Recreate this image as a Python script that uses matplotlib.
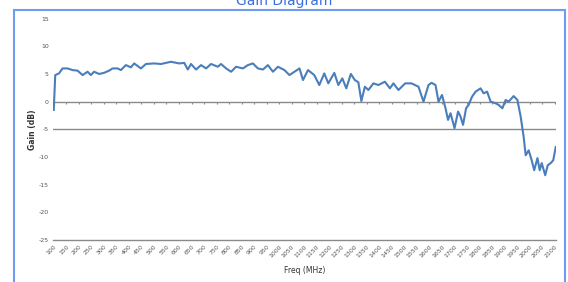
import numpy as np
from matplotlib import pyplot as plt
from matplotlib.patches import Rectangle

# frequency (MHz) and gain (dB)
freq = [100, 106, 121, 135, 155, 175, 195, 215, 235, 248, 261, 281, 301, 321, 335,
        355, 368, 388, 408, 421, 448, 468, 501, 528, 568, 601, 621, 635, 648, 668,
        688, 708, 728, 755, 768, 788, 808, 828, 855, 875, 895, 915, 935, 955, 975,
        995, 1021, 1041, 1061, 1081, 1095, 1115, 1140, 1160, 1180, 1196, 1220, 1236,
        1252, 1268, 1286, 1302, 1316, 1328, 1342, 1356, 1376, 1396, 1422, 1442, 1456,
        1476, 1503, 1528, 1556, 1576, 1596, 1608, 1624, 1636, 1650, 1664, 1674, 1684,
        1700, 1714, 1724, 1734, 1746, 1756, 1770, 1784, 1804, 1816, 1830, 1844, 1864,
        1876, 1891, 1904, 1916, 1936, 1951, 1964, 1976, 1984, 1996, 2008, 2018, 2031,
        2040, 2048, 2062, 2072, 2084, 2094, 2104]
gain = [-1.5, 4.8, 5.1, 6.0, 6.0, 5.7, 5.6, 4.8, 5.4, 4.8, 5.4, 5.0, 5.2, 5.6, 6.0,
        6.0, 5.7, 6.6, 6.2, 6.9, 6.0, 6.8, 6.9, 6.8, 7.2, 6.9, 7.0, 5.8, 6.8, 5.8,
        6.6, 6.0, 6.8, 6.3, 6.8, 6.0, 5.4, 6.3, 6.0, 6.6, 6.9, 6.0, 5.8, 6.6, 5.4,
        6.3, 5.7, 4.8, 5.4, 6.0, 3.9, 5.7, 4.8, 3.0, 5.1, 3.3, 5.2, 3.0,
        4.2, 2.4, 5.0, 3.9, 3.5, 0.1, 2.7, 2.1, 3.3, 3.0, 3.6, 2.4, 3.3,
        2.1, 3.3, 3.3, 2.7, 0.0, 3.0, 3.4, 3.0, 0.0, 1.2, -1.2, -3.3, -2.1,
        -4.8, -1.8, -2.7, -4.2, -1.2, -0.6, 0.9, 1.8, 2.4, 1.5, 1.8, 0.0, -0.3,
        -0.6, -1.2, 0.3, 0.0, 1.0, 0.3, -2.7, -6.4, -9.7, -8.8, -10.6, -12.4, -10.2,
        -12.4, -11.1, -13.3, -11.5, -11.1, -10.6, -8.2]

tick_freqs = np.arange(100, 2101, 50)
tick_labels = [str(f) for f in tick_freqs]
y_ticks = [15, 10, 5, 0, -5, -10, -15, -20, -25]
ref_lines = [0, -5]

fig = plt.figure(figsize=(5.68, 2.82), dpi=100)
ax = fig.add_axes([0.0933, 0.149, 0.886, 0.785])

for y in ref_lines:
    ax.axhline(y, color="#8a8a8a", lw=1.0, zorder=1)
ax.vlines(tick_freqs, -0.5, 0, color="#8a8a8a", lw=0.8, zorder=1)
ax.plot(freq, gain, color="#4a7ebb", lw=1.5, zorder=3)

ax.set_xlim(97, 2106)
ax.set_ylim(-25, 15)
ax.set_yticks(y_ticks)
ax.set_yticklabels([str(v) for v in y_ticks], fontsize=4.5, color="#555555")
ax.set_xticks(tick_freqs)
ax.set_xticklabels(tick_labels, fontsize=4.5, rotation=45, ha="right",
                   rotation_mode="anchor", color="#555555")
ax.tick_params(axis="both", length=0, pad=3)
for side in ["top", "right", "left"]:
    ax.spines[side].set_visible(False)
ax.spines["bottom"].set_color("#8a8a8a")
ax.spines["bottom"].set_linewidth(1.0)

ax.set_xlabel("Freq (MHz)", fontsize=5.5, color="#333333", labelpad=5)
ax.set_ylabel("Gain (dB)", fontsize=5.5, color="#333333", labelpad=1, fontweight="bold")

fig.add_artist(Rectangle((14 / 568, -0.1), 551 / 568, 1.1 - 10 / 282,
                         transform=fig.transFigure, fill=False,
                         edgecolor="#6d9cf0", lw=1.5))
fig.text(0.5, 1.0 - 1 / 282, "Gain Diagram", ha="center", va="center",
         fontsize=10, color="#3b6fe0")

fig.savefig("out.png", dpi=100)
